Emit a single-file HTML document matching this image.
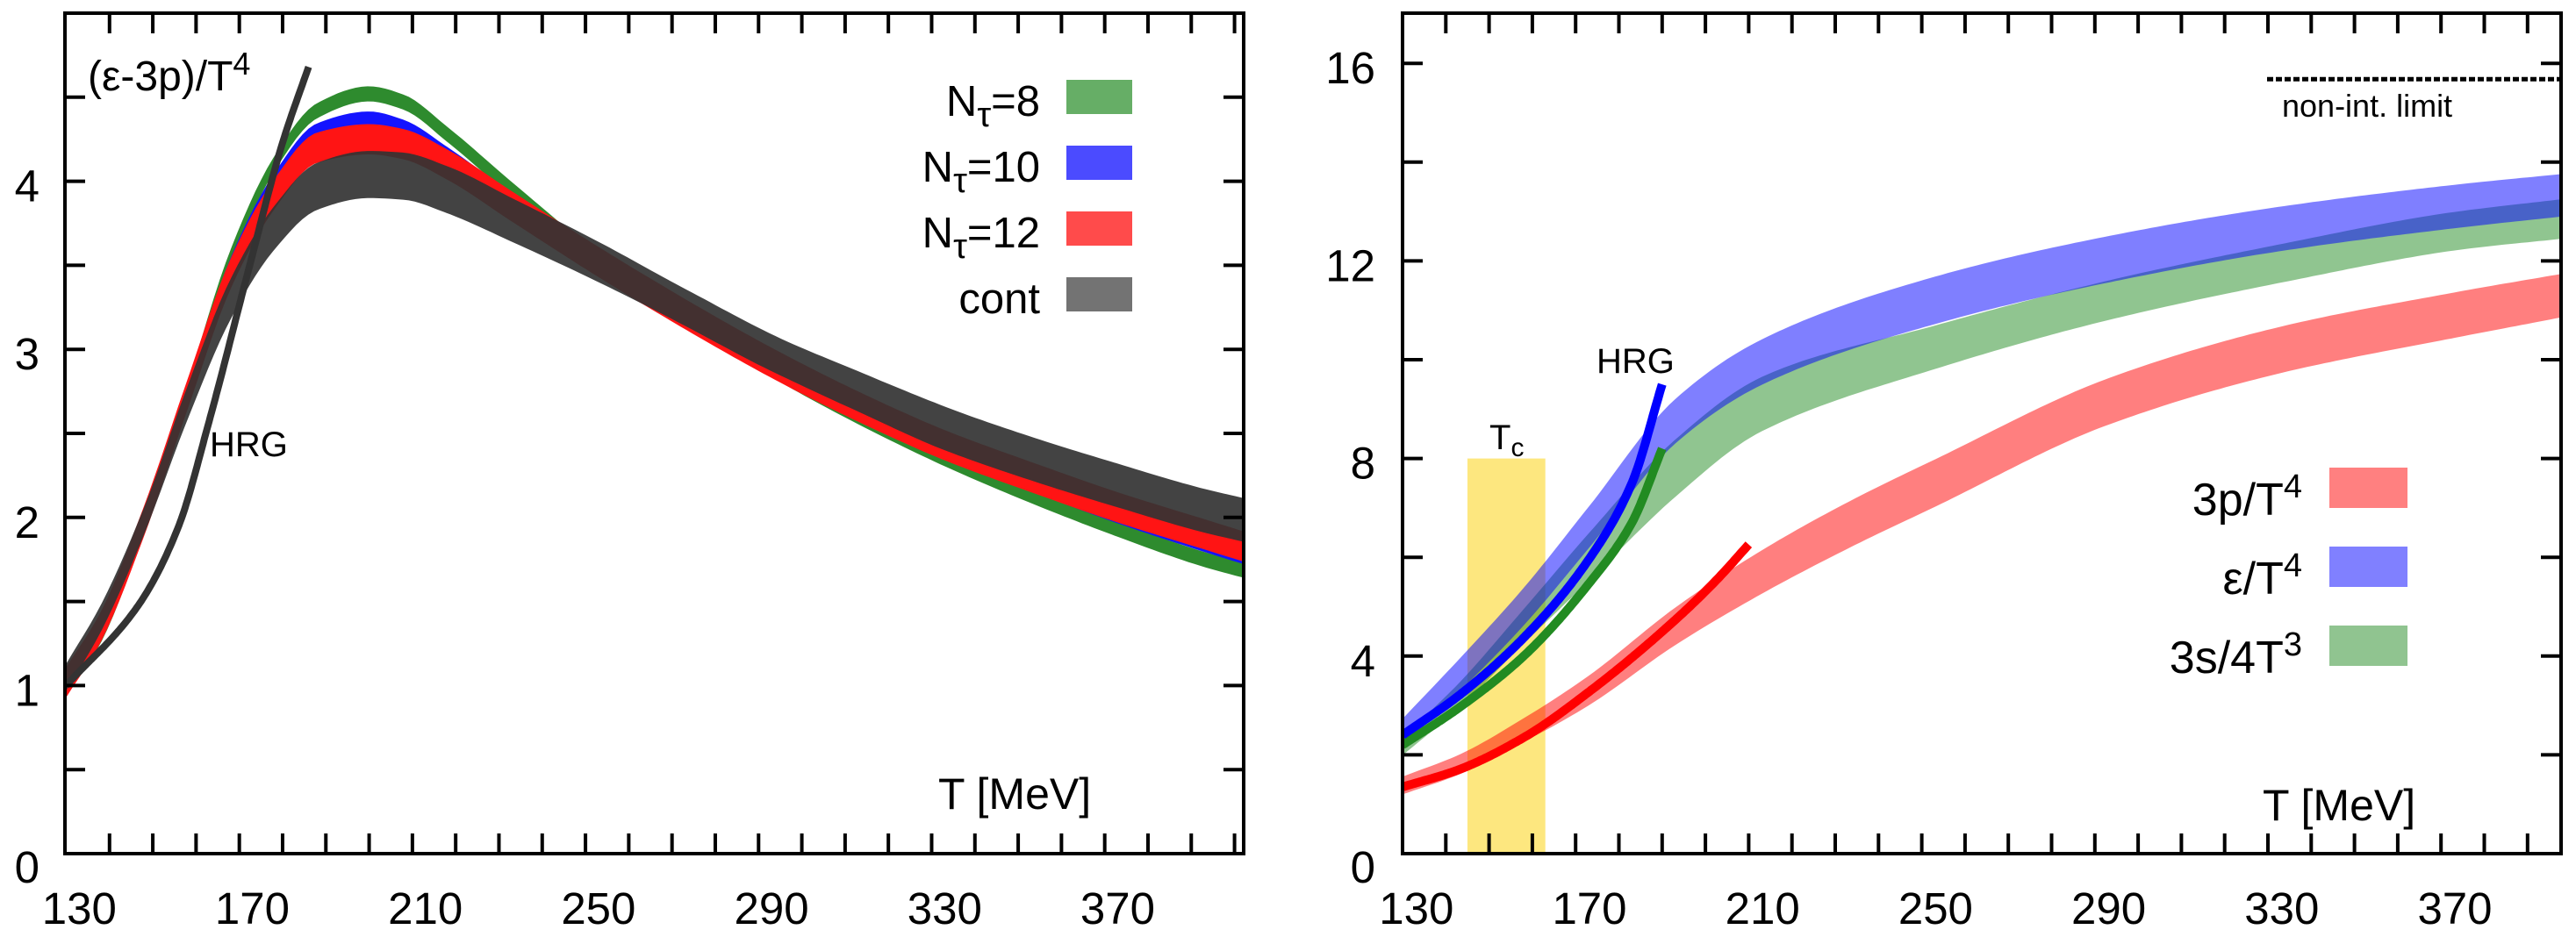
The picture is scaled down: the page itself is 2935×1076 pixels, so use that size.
<!DOCTYPE html>
<html><head><meta charset="utf-8"><style>
html,body{margin:0;padding:0;background:#fff;}
svg{display:block;font-family:"Liberation Sans",sans-serif;}
</style></head><body>
<svg id="fig" width="2935" height="1076" viewBox="0 0 2935 1076" xmlns="http://www.w3.org/2000/svg">
<g id="left"></g>
<g id="right"></g>
</svg>
<script>
// ---- Left panel data: (e-3p)/T^4 ----
const leftT = [127,135,145,155,165,175,185,197,205,215,230,250,270,290,310,330,350,370,390,400];
const nt8 = [0.98,1.30,1.95,2.75,3.55,4.10,4.42,4.52,4.47,4.28,3.95,3.53,3.20,2.88,2.60,2.35,2.13,1.93,1.75,1.68];
const nt10 = [1.00,1.33,1.97,2.75,3.50,4.00,4.30,4.37,4.32,4.16,3.88,3.52,3.20,2.90,2.63,2.40,2.20,2.01,1.84,1.76];
const nt12 = [1.02,1.35,1.98,2.73,3.45,3.92,4.20,4.25,4.22,4.10,3.85,3.52,3.21,2.92,2.66,2.43,2.24,2.06,1.90,1.82];
const cont = [1.05,1.40,1.98,2.68,3.30,3.72,3.97,4.04,4.03,3.95,3.77,3.52,3.25,2.98,2.75,2.53,2.35,2.19,2.04,1.98];
const contErr = [0.08,0.08,0.08,0.10,0.12,0.13,0.14,0.14,0.14,0.14,0.13,0.12,0.11,0.11,0.12,0.13,0.13,0.13,0.13,0.13];
const hrgLeftT = [127,144,153,160,169,177,183];
const hrgLeft = [1.0,1.49,1.95,2.57,3.46,4.23,4.68];
const xTickLabels = [130,170,210,250,290,330,370];
const leftYTicks = [0,1,2,3,4];
// ---- Right panel data ----
const bandT = [127,140,155,170,190,210,250,290,330,370,395];
const eps = [2.45,3.60,5.00,6.60,8.75,9.95,11.20,12.03,12.65,13.10,13.33];
const epsErr = [0.28,0.33,0.38,0.42,0.45,0.46,0.48,0.47,0.45,0.44,0.43];
const ent = [2.17,3.20,4.60,6.00,7.80,9.10,10.25,11.20,11.95,12.60,12.85];
const entErr = [0.18,0.25,0.35,0.48,0.58,0.55,0.44,0.40,0.39,0.39,0.40];
const presT = [127,140,155,170,190,210,230,250,290,330,370,395];
const pres = [1.38,1.80,2.50,3.30,4.60,5.70,6.65,7.50,9.15,10.20,10.90,11.30];
const presErr = [0.18,0.20,0.24,0.30,0.38,0.44,0.47,0.48,0.47,0.47,0.46,0.44];
const hrgT = [127,140,155,170,180,187];
const hrgEps = [2.4,3.2,4.37,5.95,7.5,9.5];
const hrgEnt = [2.2,2.95,4.0,5.46,6.7,8.2];
const hrgPresT = [127,140,155,170,190,200,207];
const hrgPres = [1.35,1.7,2.35,3.27,4.73,5.58,6.26];
const rightYTicks = [0,4,8,12,16];
const nonIntLimit = 15.68;
const tcRange = [142,160];
const tcTop = 8;

const NS='http://www.w3.org/2000/svg';
function mk(parent,tag,attrs,text){const e=document.createElementNS(NS,tag);for(const k in attrs)e.setAttribute(k,attrs[k]);if(text!==undefined)e.textContent=text;parent.appendChild(e);return e;}
// monotone cubic interpolation sampled densely
function interp(xs,ys){
  const n=xs.length,d=[],m=new Array(n);
  for(let i=0;i<n-1;i++)d.push((ys[i+1]-ys[i])/(xs[i+1]-xs[i]));
  m[0]=d[0];m[n-1]=d[n-2];
  for(let i=1;i<n-1;i++){if(d[i-1]*d[i]<=0)m[i]=0;else{const w1=2*(xs[i+1]-xs[i])+(xs[i]-xs[i-1]),w2=(xs[i+1]-xs[i])+2*(xs[i]-xs[i-1]);m[i]=(w1+w2)/(w1/d[i-1]+w2/d[i]);}}
  return x=>{let i=0;while(i<n-2&&x>xs[i+1])i++;const h=xs[i+1]-xs[i],t=(x-xs[i])/h;
    const h00=2*t*t*t-3*t*t+1,h10=t*t*t-2*t*t+t,h01=-2*t*t*t+3*t*t,h11=t*t*t-t*t;
    return h00*ys[i]+h10*h*m[i]+h01*ys[i+1]+h11*h*m[i+1];};
}
function samples(xs){const a=[];const x0=xs[0],x1=xs[xs.length-1];for(let i=0;i<=200;i++)a.push(x0+(x1-x0)*i/200);return a;}
function curvePath(xs,ys,sx,sy){const f=interp(xs,ys);return samples(xs).map((t,i)=>(i?'L':'M')+sx(t).toFixed(1)+','+sy(f(t)).toFixed(1)).join(' ');}
function bandPath(xs,ys,err,sx,sy){
  const errA=Array.isArray(err)?err:xs.map(()=>err);
  const f=interp(xs,ys),g=interp(xs,errA),s=samples(xs);
  const up=s.map(t=>sx(t).toFixed(1)+','+sy(f(t)+g(t)).toFixed(1));
  const lo=s.slice().reverse().map(t=>sx(t).toFixed(1)+','+sy(f(t)-g(t)).toFixed(1));
  return 'M'+up.join(' L')+' L'+lo.join(' L')+' Z';}

// ---- Left panel ----
const L=document.getElementById('left');
const lx0=74,lx1=1417,y0=973,y1=15;
const lsx=t=>lx0+(t-126.7)*4.93;
const lsy=v=>y0-v*191.6;
const lclip=mk(L,'clipPath',{id:'lclip'});mk(lclip,'rect',{x:lx0,y:y1,width:lx1-lx0,height:y0-y1});
const lg=mk(L,'g',{'clip-path':'url(#lclip)'});
let e;
e=mk(lg,'path',{d:bandPath(leftT,nt8,0.045,lsx,lsy),fill:'#2e8b2e'});

e=mk(lg,'path',{d:bandPath(leftT,nt10,0.045,lsx,lsy),fill:'#1414ff'});

e=mk(lg,'path',{d:bandPath(leftT,nt12,0.09,lsx,lsy),fill:'#ff1414'});

e=mk(lg,'path',{d:bandPath(leftT,cont,contErr,lsx,lsy),fill:'#333',opacity:0.92});

e=mk(lg,'path',{d:curvePath(hrgLeftT,hrgLeft,lsx,lsy),fill:'none',stroke:'#333',"stroke-width":8});


function frame(G,x0,x1,ticksX,ticksY,sx,sy){
  mk(G,'rect',{x:x0,y:y1,width:x1-x0,height:y0-y1,fill:'none',stroke:'#000','stroke-width':4});
  ticksX.forEach(t=>{const x=sx(t);mk(G,'line',{x1:x,x2:x,y1:y0,y2:y0-23,stroke:'#000','stroke-width':4});mk(G,'line',{x1:x,x2:x,y1:y1,y2:y1+23,stroke:'#000','stroke-width':4});});
  ticksY.forEach(v=>{const y=sy(v);mk(G,'line',{x1:x0,x2:x0+23,y1:y,y2:y,stroke:'#000','stroke-width':4});mk(G,'line',{x1:x1,x2:x1-23,y1:y,y2:y,stroke:'#000','stroke-width':4});});
}
const lTx=[];for(let t=137;t<400;t+=10)lTx.push(t);
const lTy=[];for(let v=0.5;v<5;v+=0.5)lTy.push(v);
frame(L,lx0,lx1,lTx,lTy,lsx,lsy);
xTickLabels.forEach(t=>{e=mk(L,'text',{x:lsx(t),y:1053,'font-size':51,'text-anchor':'middle'},String(t));
});
leftYTicks.forEach(v=>{e=mk(L,'text',{x:45,y:lsy(v)+23+(v===0?10:0),'font-size':51,'text-anchor':'end'},String(v));
});
e=mk(L,'text',{x:100,y:103,'font-size':48},'(ε-3p)/T');mk(e,'tspan',{dy:-18,'font-size':36},'4');

e=mk(L,'text',{x:1069,y:922,'font-size':50},'T [MeV]');

e=mk(L,'text',{x:239,y:520,'font-size':40},'HRG');

const legL=[['8','#66ae66'],['10','#4b4bff'],['12','#ff4b4b'],[null,'#737373']];
legL.forEach((r,i)=>{const yb=132+75*i;
  const g=mk(L,'g',{});
  const t=mk(g,'text',{x:1185,y:yb,'font-size':49,'text-anchor':'end'});
  if(r[0]){t.appendChild(document.createTextNode('N'));mk(t,'tspan',{dy:12,'font-size':40},'τ');mk(t,'tspan',{dy:-12},'='+r[0]);}else t.textContent='cont';
  mk(g,'rect',{x:1215,y:91+75*i,width:75,height:39,fill:r[1]});});

// ---- Right panel ----
const R=document.getElementById('right');
const rx0=1598,rx1=2918;
const rsx=t=>rx0+(t-127)*4.93;
const rsy=v=>y0-v*56.3;
const rclip=mk(R,'clipPath',{id:'rclip'});mk(rclip,'rect',{x:rx0,y:y1,width:rx1-rx0,height:y0-y1});
const rg=mk(R,'g',{'clip-path':'url(#rclip)'});
e=mk(rg,'rect',{x:rsx(tcRange[0]),y:rsy(tcTop),width:rsx(tcRange[1])-rsx(tcRange[0]),height:rsy(0)-rsy(tcTop),fill:'#fde77f'});

e=mk(rg,'path',{d:bandPath(presT,pres,presErr,rsx,rsy),fill:'#ff0000','fill-opacity':0.5});

e=mk(rg,'path',{d:bandPath(bandT,ent,entErr,rsx,rsy),fill:'#228b22','fill-opacity':0.5});

e=mk(rg,'path',{d:bandPath(bandT,eps,epsErr,rsx,rsy),fill:'#0000ff','fill-opacity':0.5});

e=mk(rg,'path',{d:curvePath(hrgPresT,hrgPres,rsx,rsy),fill:'none',stroke:'#ff0000','stroke-width':10});

e=mk(rg,'path',{d:curvePath(hrgT,hrgEnt,rsx,rsy),fill:'none',stroke:'#228b22','stroke-width':10});

e=mk(rg,'path',{d:curvePath(hrgT,hrgEps,rsx,rsy),fill:'none',stroke:'#0000ff','stroke-width':10});

e=mk(rg,'line',{x1:2583,x2:rx1,y1:rsy(nonIntLimit),y2:rsy(nonIntLimit),stroke:'#000','stroke-width':5,'stroke-dasharray':'7,3'});

const rTx=[];for(let t=137;t<395;t+=10)rTx.push(t);
const rTy=[];for(let v=2;v<17;v+=2)rTy.push(v);
frame(R,rx0,rx1,rTx,rTy,rsx,rsy);
xTickLabels.forEach(t=>{e=mk(R,'text',{x:rsx(t)+1,y:1053,'font-size':51,'text-anchor':'middle'},String(t));
});
rightYTicks.forEach(v=>{e=mk(R,'text',{x:1567,y:rsy(v)+23+(v===0?10:0),'font-size':51,'text-anchor':'end'},String(v));
});
e=mk(R,'text',{x:2600,y:133,'font-size':36},'non-int. limit');

e=mk(R,'text',{x:2578,y:935,'font-size':50},'T [MeV]');

e=mk(R,'text',{x:1819,y:425,'font-size':40},'HRG');

e=mk(R,'text',{x:1697,y:512,'font-size':40},'T');mk(e,'tspan',{dy:8,'font-size':30},'c');

const legR=[['3p/T','4','#ff8080'],['ε/T','4','#8080ff'],['3s/4T','3','#90c490']];
legR.forEach((r,i)=>{const g=mk(R,'g',{});
  const t=mk(g,'text',{x:2623,y:587+90*i,'font-size':52,'text-anchor':'end'});
  t.appendChild(document.createTextNode(r[0]));mk(t,'tspan',{dy:-20,'font-size':38},r[1]);
  mk(g,'rect',{x:2654,y:533+90*i,width:89,height:46,fill:r[2]});});
</script>
</body></html>
